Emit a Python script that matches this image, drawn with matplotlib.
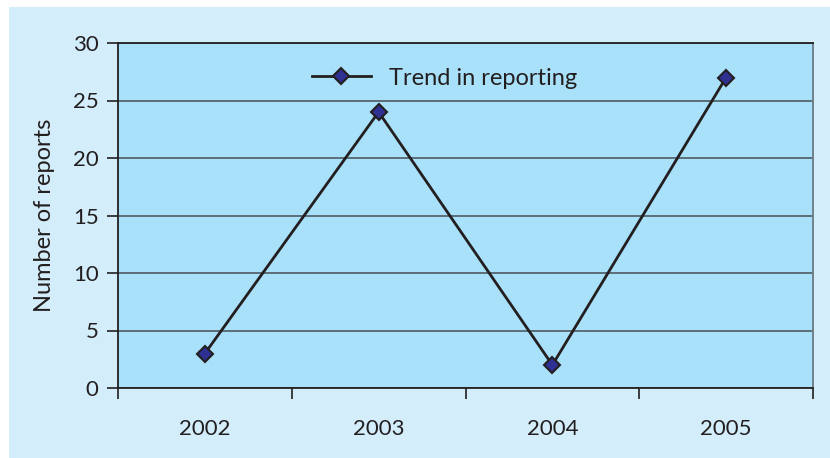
import matplotlib.pyplot as plt
from matplotlib.patches import Rectangle
from matplotlib.ticker import FixedLocator, NullFormatter

years = ["2002", "2003", "2004", "2005"]
reports = [3, 24, 2, 27]
y_ticks = [0, 5, 10, 15, 20, 25, 30]

plt.rcParams['font.family'] = ['Lato', 'DejaVu Sans']

fig = plt.figure(figsize=(8.3, 4.58), dpi=100, facecolor='white')
# light blue chart background (white margin at top/left)
fig.patches.append(Rectangle((9/830, 0), 1 - 9/830, 1 - 7/458, transform=fig.transFigure,
                             facecolor='#d3eefa', edgecolor='none', zorder=-10))

ax = fig.add_axes([118/830, 1 - 388/458, (813 - 118)/830, (388 - 43)/458])
ax.set_facecolor('#a9e1fa')

x = list(range(len(years)))
ax.plot(x, reports, color='#231f20', lw=2, marker='D', markersize=8,
        markerfacecolor='#2e3192', markeredgecolor='#231f20', markeredgewidth=1.5,
        label='Trend in reporting', zorder=3)

ax.set_xlim(-0.5, len(years) - 0.5)
ax.set_ylim(0, 30)
ax.set_yticks(y_ticks)
ax.yaxis.grid(True, color='#55656f', lw=1.3)
ax.set_axisbelow(True)

ax.xaxis.set_major_locator(FixedLocator([i - 0.5 for i in range(len(years) + 1)]))
ax.xaxis.set_major_formatter(NullFormatter())
ax.xaxis.set_minor_locator(FixedLocator(x))
ax.set_xticklabels(years, minor=True)
ax.tick_params(axis='x', which='major', direction='out', length=8, width=1.2, color='#231f20')
ax.tick_params(axis='x', which='minor', length=0, pad=22, labelsize=16, labelcolor='#231f20')
ax.tick_params(axis='y', direction='out', length=8, width=1.2, color='#231f20',
               labelsize=16, labelcolor='#231f20', pad=6)

for s in ['left', 'bottom', 'top']:
    ax.spines[s].set_color('#231f20')
    ax.spines[s].set_linewidth(1.3)
ax.spines['right'].set_color('#6a7a84')
ax.spines['right'].set_linewidth(1.3)

ax.set_ylabel('Number of reports', fontsize=17, color='#231f20', labelpad=13)

ax.legend(loc='upper center', bbox_to_anchor=(0.47, 0.99), frameon=False, fontsize=17,
          handlelength=2.5, labelcolor='#231f20')

fig.savefig('out.png', dpi=100, facecolor=fig.get_facecolor())
